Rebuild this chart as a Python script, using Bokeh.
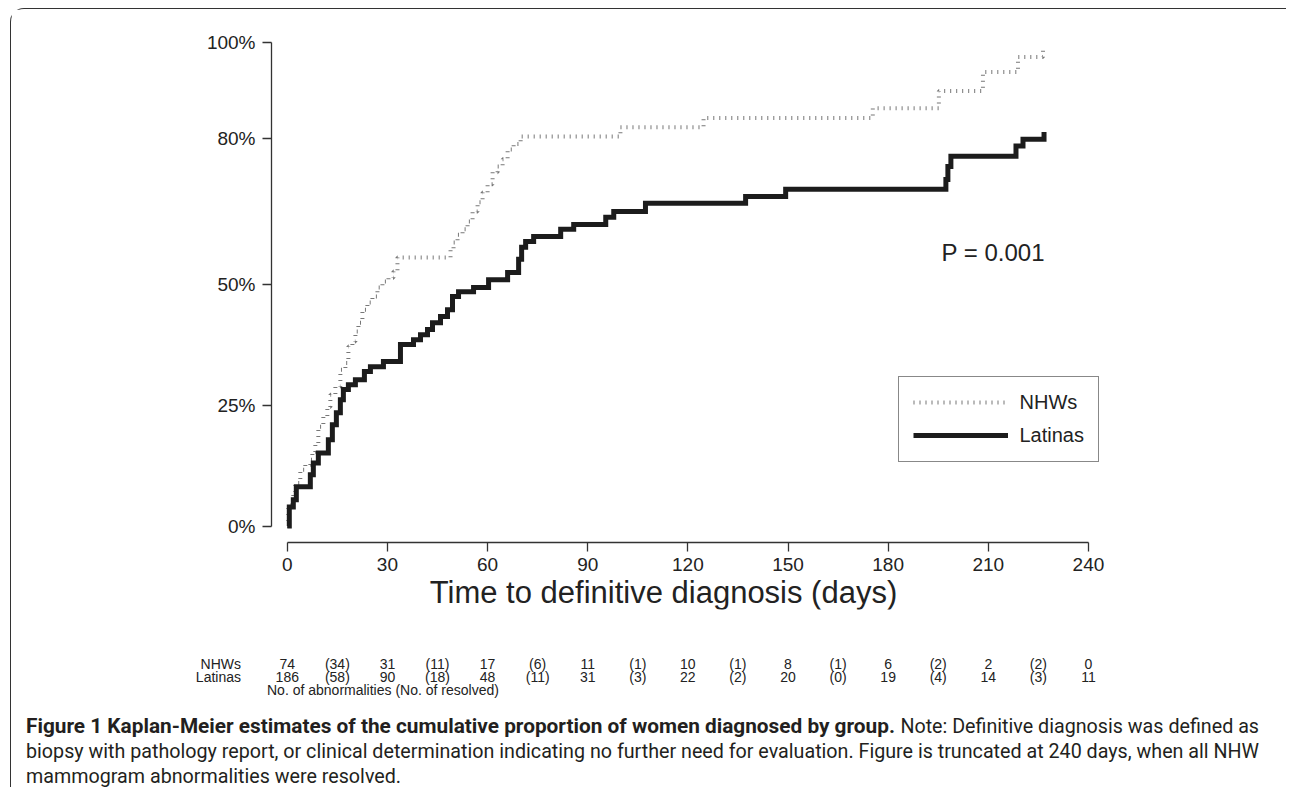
from bokeh.plotting import figure
from bokeh.models import (Range1d, FixedTicker, PrintfTickFormatter, Label,
                          Legend, LegendItem)
from bokeh.core.properties import value
from bokeh.embed import file_html
from bokeh.resources import INLINE

# ---------------- data ----------------
lat_days = [0, 0.6, 1.8, 2.7, 6.9, 7.8, 9.3, 12.3, 13.5, 14.7, 15.9, 16.8, 18.3, 20.4,
            23.1, 24.9, 28.8, 33.9, 37.8, 39.9, 42.0, 43.5, 45.9, 48.0, 49.5, 51.3,
            55.8, 60.3, 66.0, 69.3, 70.2, 71.4, 73.8, 81.9, 85.8, 95.4, 97.8, 107.3,
            137.3, 149.3, 197.3, 197.9, 198.8, 218.3, 220.4, 226.7]
lat_pct = [0, 3.9, 5.4, 8.1, 10.6, 13.0, 15.1, 17.8, 20.9, 23.4, 26.1, 28.2, 29.2, 30.2,
           31.9, 32.9, 34.0, 37.5, 38.5, 39.5, 40.6, 42.0, 43.3, 44.7, 47.4, 48.4,
           49.3, 50.9, 52.4, 55.1, 57.6, 58.8, 59.8, 61.3, 62.3, 63.8, 65.0, 66.7,
           68.1, 69.6, 71.6, 74.3, 76.4, 78.5, 79.9, 81.4]

nhw_days = [0, 0.3, 1.8, 2.4, 3.9, 5.4, 6.9, 7.5, 8.4, 9.3, 10.8, 12.0, 12.9, 14.4,
            15.9, 17.4, 18.3, 19.5, 20.4, 21.3, 22.5, 24.0, 25.5, 27.0, 28.5, 30.3,
            31.8, 33.0, 48.9, 49.8, 51.0, 52.5, 54.0, 55.5, 57.0, 58.5, 60.0, 61.5,
            63.0, 64.5, 66.0, 67.8, 69.9, 99.8, 124.7, 175.4, 195.2, 208.4, 218.9, 226.4]
nhw_pct = [0, 4.3, 6.8, 8.9, 11.6, 12.6, 13.7, 15.3, 16.8, 20.5, 22.6, 24.6, 27.1, 28.8,
           32.3, 33.7, 37.1, 38.1, 40.2, 42.0, 44.7, 46.2, 47.4, 49.3, 50.5, 51.3,
           52.6, 55.5, 57.1, 58.6, 60.2, 61.3, 62.9, 65.0, 66.9, 68.9, 70.6, 73.1,
           74.3, 75.8, 77.8, 78.9, 80.5, 82.4, 84.3, 86.3, 89.9, 93.8, 96.9, 99.2]

x_ticks = [0, 30, 60, 90, 120, 150, 180, 210, 240]
y_ticks = [0, 25, 50, 80, 100]

risk_days = [0, 15, 30, 45, 60, 75, 90, 105, 120, 135, 150, 165, 180, 195, 210, 225, 240]
nhw_risk = ["74", "(34)", "31", "(11)", "17", "(6)", "11", "(1)", "10", "(1)", "8", "(1)",
            "6", "(2)", "2", "(2)", "0"]
lat_risk = ["186", "(58)", "90", "(18)", "48", "(11)", "31", "(3)", "22", "(2)", "20", "(0)",
            "19", "(4)", "14", "(3)", "11"]

group_names = ["NHWs", "Latinas"]
p_value_text = "P = 0.001"
x_title = "Time to definitive diagnosis (days)"
risk_footer = "No. of abnormalities (No. of resolved)"
cap_bold = "Figure 1 Kaplan-Meier estimates of the cumulative proportion of women diagnosed by group."
cap_line1 = "Note: Definitive diagnosis was defined as"
cap_line2 = ("biopsy with pathology report, or clinical determination indicating no further need "
             "for evaluation. Figure is truncated at 240 days, when all NHW")
cap_line3 = "mammogram abnormalities were resolved."

# ---------------- geometry (page pixels -> data) ----------------
OX, OY = 11.5, 9.5                 # page position of the first canvas
W = 1276
X0, XS = 287.3, 3.338              # page x of day 0, px per day
Y0, YS = 526.0, 4.84               # page y of 0 %, px per percent
AXIS_Y = 542                       # page y of the x axis line


def dx(px):
    return (px - X0) / XS


def dy(py):
    return (Y0 - py) / YS


MBL, MBR, MBT, MBB = 260, 166, 20, 40
H1 = 640
fl = OX + MBL
fr = OX + W - MBR
ft = OY + MBT
fb = OY + H1 - MBB

FONT = "Liberation Sans"
CAP_FONT = "Roboto"
TXT = "#222222"
CAP_TXT = "#231f20"

p = figure(width=W, height=H1, output_backend="svg", toolbar_location=None,
           x_range=Range1d(dx(fl), dx(fr)), y_range=Range1d(dy(fb), dy(ft)),
           min_border_left=MBL, min_border_right=MBR,
           min_border_top=MBT, min_border_bottom=MBB)
p.outline_line_color = None
p.grid.visible = False
p.background_fill_color = "white"
p.border_fill_color = "white"
p.styles = {"margin-left": "10px", "margin-top": "8px",
            "border-left": "1.5px solid #333", "border-top": "1.5px solid #333",
            "border-top-left-radius": "14px"}

for ax in (p.xaxis[0], p.yaxis[0]):
    ax.axis_line_color = "#333333"
    ax.axis_line_width = 1.3
    ax.major_tick_line_color = "#333333"
    ax.major_tick_line_width = 1.3
    ax.major_tick_out = 9
    ax.major_tick_in = 0
    ax.minor_tick_line_color = None
    ax.major_label_text_font = FONT
    ax.major_label_text_font_size = "19px"
    ax.major_label_text_color = TXT

p.xaxis.ticker = FixedTicker(ticks=x_ticks)
p.xaxis.bounds = (x_ticks[0], x_ticks[-1])
p.xaxis.major_label_standoff = 7
p.xaxis.fixed_location = dy(AXIS_Y)
p.yaxis.ticker = FixedTicker(ticks=y_ticks)
p.yaxis.bounds = (y_ticks[0], y_ticks[-1])
p.yaxis.formatter = PrintfTickFormatter(format="%d%%")
p.yaxis.major_label_standoff = 7

r_nhw = p.step(nhw_days, nhw_pct, mode="after", line_color="#777777", line_width=4,
               line_dash="1 5", line_cap="butt")
r_lat = p.step(lat_days, lat_pct, mode="after", line_color="#1c1c1c", line_width=5,
               line_join="miter")

legend = Legend(items=[LegendItem(label=group_names[0], renderers=[r_nhw]),
                       LegendItem(label=group_names[1], renderers=[r_lat])],
                location=(898 - fl, fb - 462), orientation="vertical",
                glyph_width=95, glyph_height=20, label_standoff=12, padding=14,
                spacing=10, margin=0, border_line_color="#111111", border_line_width=1.5,
                background_fill_color="white", background_fill_alpha=1,
                label_text_font=FONT, label_text_font_size="20px", label_text_color=TXT,
                label_text_baseline="middle", label_height=20)
p.add_layout(legend)

p.add_layout(Label(x=dx(1045), y=dy(252), text=p_value_text, text_align="right",
                   text_baseline="middle", text_font=FONT, text_font_size="24px",
                   text_color=TXT))
p.add_layout(Label(x=dx(663.5), y=dy(592), text=x_title, text_align="center",
                   text_baseline="middle", text_font=FONT, text_font_size="31px",
                   text_color=TXT))

# ---------------- lower panel: risk table and caption ----------------
top2 = OY + H1
H2 = 788 - int(top2)
p2 = figure(width=W, height=H2, output_backend="svg", toolbar_location=None,
            x_range=Range1d(dx(OX), dx(OX + W)), y_range=Range1d(dy(top2 + H2), dy(top2)),
            x_axis_type=None, y_axis_type=None,
            min_border_left=0, min_border_right=0, min_border_top=0, min_border_bottom=0)
p2.outline_line_color = None
p2.grid.visible = False
p2.background_fill_color = "white"
p2.border_fill_color = "white"
p2.styles = {"margin-left": "10px", "border-left": "1.5px solid #333"}

p2.text(x=risk_days, y=[dy(665)] * len(risk_days), text=nhw_risk, text_align="center",
        text_baseline="middle", text_font=value(FONT), text_font_size="14px", text_color=TXT)
p2.text(x=risk_days, y=[dy(678)] * len(risk_days), text=lat_risk, text_align="center",
        text_baseline="middle", text_font=value(FONT), text_font_size="14px", text_color=TXT)
p2.text(x=[dx(241)] * 2, y=[dy(665), dy(678)], text=group_names, text_align="right",
        text_baseline="middle", text_font=value(FONT), text_font_size="14px", text_color=TXT)
p2.text(x=[dx(267)], y=[dy(691)], text=[risk_footer], text_align="left",
        text_baseline="middle", text_font=value(FONT), text_font_size="14px", text_color=TXT)

p2.text(x=[dx(26)], y=[dy(727)], text=[cap_bold], text_align="left",
        text_baseline="alphabetic", text_font=value(CAP_FONT), text_font_size="20.8px",
        text_font_style="bold", text_color=CAP_TXT)
p2.text(x=[dx(1259)], y=[dy(727)], text=[cap_line1], text_align="right",
        text_baseline="alphabetic", text_font=value(CAP_FONT), text_font_size="19.7px",
        text_color=CAP_TXT)
p2.text(x=[dx(26), dx(26)], y=[dy(752), dy(777)], text=[cap_line2, cap_line3],
        text_align="left", text_baseline="alphabetic", text_font=value(CAP_FONT),
        text_font_size="19.7px", text_color=CAP_TXT)

open("out.html", "w").write(file_html([p, p2], INLINE))
